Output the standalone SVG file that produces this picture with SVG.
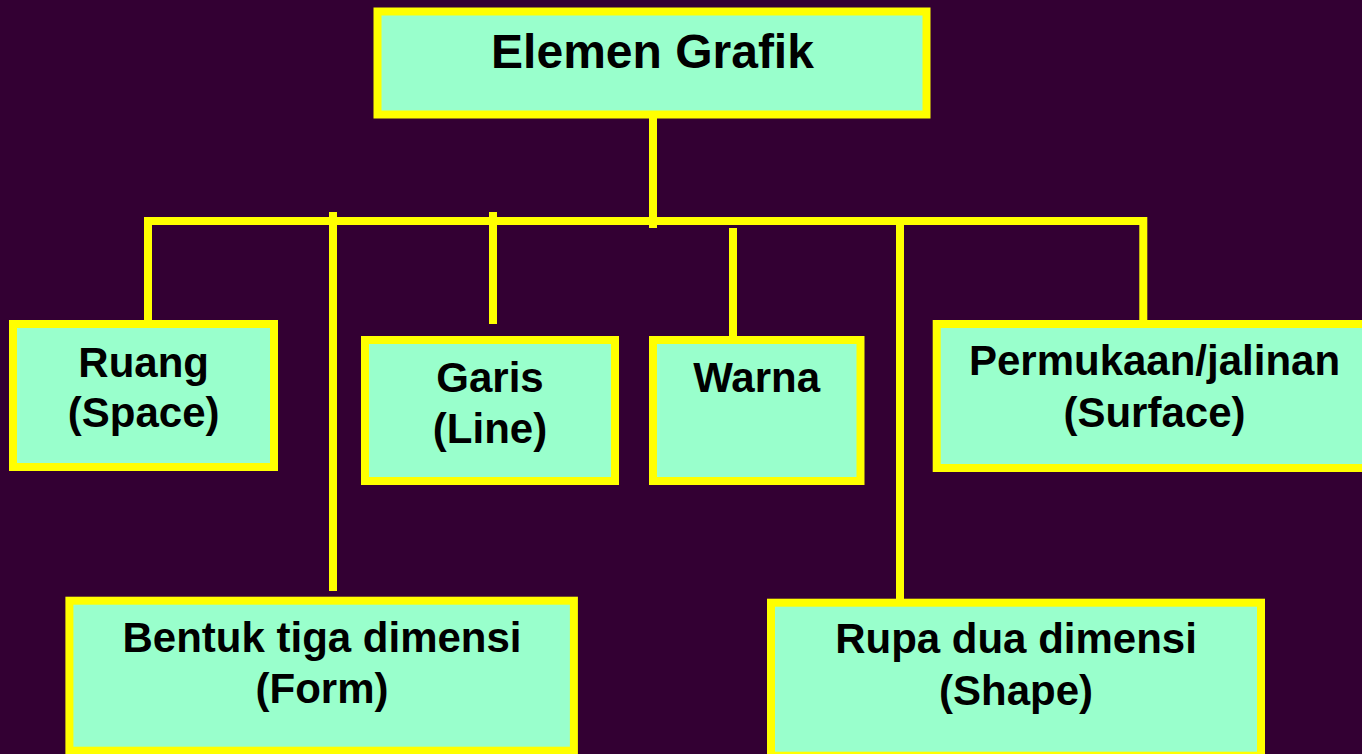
<svg xmlns="http://www.w3.org/2000/svg" width="1362" height="754" viewBox="0 0 1362 754">
  <style>
    .box { fill: #99FFCC; stroke: #FFFF00; stroke-width: 8; }
    .lbl { font-family: "Liberation Sans", Arial, sans-serif; font-weight: bold; font-size: 42px; fill: #000000; text-anchor: middle; }
    .title { font-size: 48px; }
    .conn { stroke: #FFFF00; stroke-width: 8; fill: none; stroke-linecap: butt; stroke-linejoin: miter; }
  </style>
  <rect x="0" y="0" width="1362" height="754" fill="#330033"/>
  <g id="connectors">
    <line class="conn" x1="653" y1="116" x2="653" y2="228" stroke-width="7.5"/>
    <polyline class="conn" points="148,328 148,221 1143.3,221 1143.3,331"/>
    <line class="conn" x1="333" y1="212" x2="333" y2="591"/>
    <line class="conn" x1="493" y1="212" x2="493" y2="324"/>
    <line class="conn" x1="733" y1="228" x2="733" y2="338"/>
    <line class="conn" x1="900" y1="221" x2="900" y2="601"/>
  </g>
  <g id="node-elemen-grafik">
    <rect class="box" x="377.5" y="11.5" width="549" height="103"/>
    <text class="lbl title" x="652.5" y="68.3">Elemen Grafik</text>
  </g>
  <g id="node-ruang">
    <rect class="box" x="13" y="324" width="261" height="143"/>
    <text class="lbl" x="143.7" y="376.7">Ruang</text>
    <text class="lbl" x="143.7" y="427">(Space)</text>
  </g>
  <g id="node-garis">
    <rect class="box" x="365" y="340" width="250" height="141"/>
    <text class="lbl" x="490" y="391.7">Garis</text>
    <text class="lbl" x="490" y="443">(Line)</text>
  </g>
  <g id="node-warna">
    <rect class="box" x="653" y="340" width="207.5" height="141"/>
    <text class="lbl" x="756.7" y="391.7">Warna</text>
  </g>
  <g id="node-permukaan">
    <rect class="box" x="936.7" y="324" width="435" height="144"/>
    <text class="lbl" x="1154.5" y="375">Permukaan/jalinan</text>
    <text class="lbl" x="1154.5" y="426.7">(Surface)</text>
  </g>
  <g id="node-bentuk">
    <rect class="box" x="69.4" y="600.7" width="504.5" height="150"/>
    <text class="lbl" x="322" y="651.7">Bentuk tiga dimensi</text>
    <text class="lbl" x="322" y="703">(Form)</text>
  </g>
  <g id="node-rupa">
    <rect class="box" x="771" y="602.7" width="490" height="153"/>
    <text class="lbl" x="1016" y="653.3">Rupa dua dimensi</text>
    <text class="lbl" x="1016" y="705">(Shape)</text>
  </g>
</svg>
